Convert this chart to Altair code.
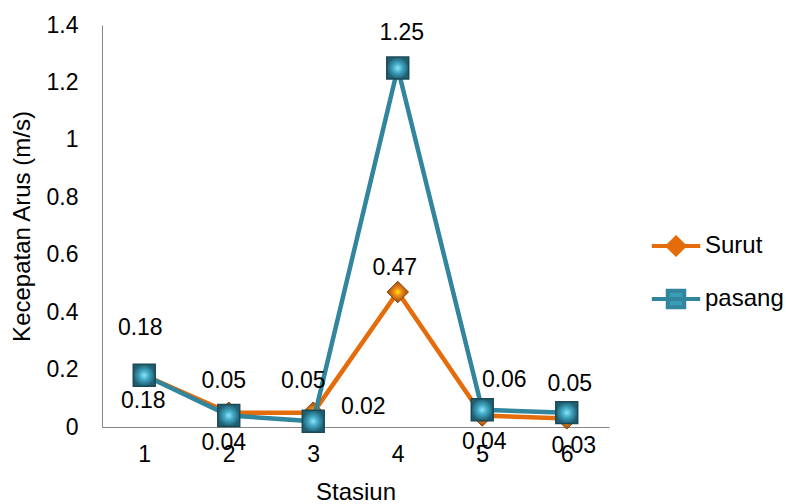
import altair as alt
import pandas as pd

# Station numbers and current speed readings (m/s)
stasiun = ["1", "2", "3", "4", "5", "6"]
surut = [0.18, 0.05, 0.05, 0.47, 0.04, 0.03]
pasang = [0.18, 0.04, 0.02, 1.25, 0.06, 0.05]
series_names = ["Surut", "pasang"]
y_ticks = [0, 0.2, 0.4, 0.6, 0.8, 1.0, 1.2, 1.4]

# Pixel nudges for the value labels around each marker
surut_label_dx = [-4, -5, -10, -3, 2, 7]
surut_label_dy = [-47, -32, -32, -24, 26, 28]
pasang_label_dx = [-1, -5, 50, 4, 22, 3]
pasang_label_dy = [26, 27, -14, -35, -30, -29]

ORANGE = "#E46C0A"
TEAL = "#31859C"
FONT = "Liberation Sans"
PLOT_W, PLOT_H = 507, 402
Y_MAX = 1.4

rows = []
for name, vals, dxs, dys in [
    ("Surut", surut, surut_label_dx, surut_label_dy),
    ("pasang", pasang, pasang_label_dx, pasang_label_dy),
]:
    for st, v, dx, dy in zip(stasiun, vals, dxs, dys):
        rows.append({"stasiun": st, "value": v, "series": name,
                     "label": f"{v:.2f}", "dx": dx, "dy": dy})
df = pd.DataFrame(rows)

x_enc = alt.X(
    "stasiun:N", sort=stasiun,
    scale=alt.Scale(type="point", padding=0.5),
    axis=alt.Axis(title="Stasiun", labelAngle=0, ticks=False, labelPadding=16,
                  titlePadding=14, domainColor="#868686"),
)
y_scale = alt.Scale(domain=[0, Y_MAX], nice=False)
y_enc = alt.Y(
    "value:Q", scale=y_scale,
    axis=alt.Axis(title="Kecepatan Arus (m/s)", values=y_ticks, format="~g",
                  ticks=False, grid=False, labelPadding=24, titlePadding=12,
                  domainColor="#868686"),
)

base = alt.Chart(df).encode(x=x_enc, y=y_enc)

diamond_fill = alt.Gradient(
    gradient="radial",
    stops=[alt.GradientStop(offset=0, color="#FFF200"),
           alt.GradientStop(offset=0.35, color="#F08A1C"),
           alt.GradientStop(offset=1, color="#9A4A08")],
)
square_fill = alt.Gradient(
    gradient="radial",
    stops=[alt.GradientStop(offset=0, color="#8FE6FA"),
           alt.GradientStop(offset=0.45, color="#3FA6C2"),
           alt.GradientStop(offset=1, color="#1F5E70")],
)

surut_data = base.transform_filter(alt.datum.series == "Surut")
pasang_data = base.transform_filter(alt.datum.series == "pasang")

surut_line = surut_data.mark_line(color=ORANGE, strokeWidth=4.5)
surut_pts = surut_data.mark_point(shape="diamond", size=460, filled=True,
                                  fill=diamond_fill, stroke="#8A4308",
                                  strokeWidth=1, opacity=1)
pasang_line = pasang_data.mark_line(color=TEAL, strokeWidth=4.5)
pasang_pts = pasang_data.mark_point(shape="square", size=480, filled=True,
                                    fill=square_fill, stroke="#1B4A57",
                                    strokeWidth=1.5, opacity=1)

# Value labels: the pixel nudge is turned into data units along y
labels = alt.Chart(df).transform_calculate(
    label_y=f"datum.value - datum.dy * {Y_MAX} / {PLOT_H}"
).mark_text(font=FONT, fontSize=23, color="black",
            align="center", baseline="middle").encode(
    x=alt.X("stasiun:N", sort=stasiun),
    y=alt.Y("label_y:Q"),
    text="label:N",
    xOffset=alt.XOffset("dx:Q", scale=None),
)

# Legend: line segment with the series marker on it
DIAMOND_PATH = "M-2.2,0H2.2M0,-0.75L0.75,0L0,0.75L-0.75,0Z"
SQUARE_PATH = "M-2.2,0H2.2M-0.75,-0.75H0.75V0.75H-0.75Z"
leg = alt.Legend(title=None, orient="none", legendX=561, legendY=208,
                 symbolSize=484, symbolStrokeWidth=4, labelOffset=16,
                 labelFont=FONT, labelFontSize=24, rowPadding=19, padding=0)
legend_layer = alt.Chart(df).transform_filter("false").mark_point(
    filled=True, size=484, opacity=1
).encode(
    fill=alt.Fill("series:N", scale=alt.Scale(domain=series_names,
                  range=[ORANGE, "#3A9DB8"]), legend=leg),
    stroke=alt.Stroke("series:N", scale=alt.Scale(domain=series_names,
                      range=[ORANGE, TEAL]), legend=leg),
    shape=alt.Shape("series:N", scale=alt.Scale(domain=series_names,
                    range=[DIAMOND_PATH, SQUARE_PATH]), legend=leg),
)

chart = alt.layer(
    surut_line, surut_pts, pasang_line, pasang_pts, labels, legend_layer
).properties(
    width=PLOT_W, height=PLOT_H,
    background="white",
    autosize=alt.AutoSizeParams(type="none"),
    padding={"left": 102, "top": 25, "right": 177, "bottom": 77},
).configure_view(stroke=None).configure_axis(
    labelFont=FONT, labelFontSize=23, labelColor="black",
    titleFont=FONT, titleFontSize=24, titleFontWeight="normal", titleColor="black",
)

chart.save("out.html", embed_options={"renderer": "svg", "actions": False})
